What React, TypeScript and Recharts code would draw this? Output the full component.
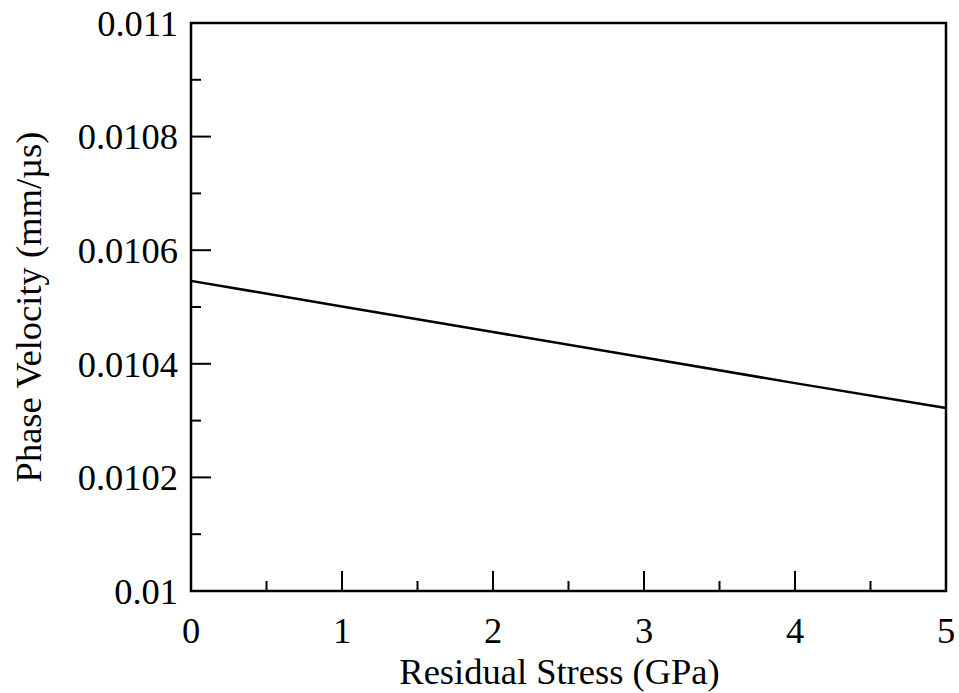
import React from 'react';
import { LineChart, Line, XAxis, YAxis, ReferenceArea } from 'recharts';

// residual stress (GPa) vs. phase velocity (mm/µs)
const stress = [0, 1, 2, 3, 4, 5];
const velocity = [0.010546, 0.010501, 0.010456, 0.010411, 0.010366, 0.010322];

const xTicks = [0, 0.5, 1, 1.5, 2, 2.5, 3, 3.5, 4, 4.5, 5];
const xTickLabels = ['0', '', '1', '', '2', '', '3', '', '4', '', '5'];
const yTicks = [0.01, 0.0101, 0.0102, 0.0103, 0.0104, 0.0105, 0.0106, 0.0107, 0.0108, 0.0109, 0.011];
const yTickLabels = ['0.01', '', '0.0102', '', '0.0104', '', '0.0106', '', '0.0108', '', '0.011'];

const data = stress.map((s, i) => ({ stress: s, velocity: velocity[i] }));

const FONT = '"Liberation Serif", "Times New Roman", serif';
const FONT_SIZE = 36.5;
const MAJOR = 20;
const MINOR = 10;
const Y_GAP = 13;
const Y_AXIS_W = 60;
const X_AXIS_H = 60;

const YTick = (props: any) => {
  const { x, y, index } = props;
  const label = yTickLabels[index];
  const axisX = x + Y_GAP;
  return (
    <g>
      <line x1={axisX} x2={axisX + (label ? MAJOR : MINOR)} y1={y} y2={y} stroke="#000" strokeWidth={2} />
      {label && (
        <text x={x} y={y} dy="0.35em" textAnchor="end" fontFamily={FONT} fontSize={FONT_SIZE} fill="#000">
          {label}
        </text>
      )}
    </g>
  );
};

const XTick = (props: any) => {
  const { x, y, index } = props;
  const label = xTickLabels[index];
  return (
    <g>
      <line x1={x} x2={x} y1={y} y2={y - (label ? MAJOR : MINOR)} stroke="#000" strokeWidth={2} />
      {label && (
        <text x={x} y={y + 39} dy="0.35em" textAnchor="middle" fontFamily={FONT} fontSize={FONT_SIZE} fill="#000">
          {label}
        </text>
      )}
    </g>
  );
};

const XLabel = (props: any) => {
  const { viewBox } = props;
  const cx = viewBox.x + viewBox.width / 2 - 9;
  return (
    <text x={cx} y={viewBox.y + 80} dy="0.35em" textAnchor="middle" fontFamily={FONT} fontSize={FONT_SIZE} fill="#000">
      Residual Stress (GPa)
    </text>
  );
};

const YLabel = (props: any) => {
  const { viewBox } = props;
  const axisX = viewBox.x + viewBox.width;
  const cx = axisX - 163;
  const cy = viewBox.y + viewBox.height / 2;
  return (
    <text
      x={cx}
      y={cy}
      dy="0.35em"
      textAnchor="middle"
      transform={`rotate(-90, ${cx}, ${cy})`}
      fontFamily={FONT}
      fontSize={FONT_SIZE}
      fill="#000"
    >
      Phase Velocity (mm/µs)
    </text>
  );
};

export default function App() {
  return (
    <div style={{ position: 'absolute', left: 0, top: 0, background: '#fff' }}>
      <LineChart
        width={959}
        height={693}
        data={data}
        margin={{ top: 23, right: 13, bottom: 102 - X_AXIS_H, left: 191 - Y_AXIS_W }}
      >
        <XAxis
          dataKey="stress"
          type="number"
          domain={[0, 5]}
          ticks={xTicks}
          interval={0}
          height={X_AXIS_H}
          tickSize={0}
          tickMargin={0}
          axisLine={false}
          tickLine={false}
          tick={<XTick />}
          label={<XLabel />}
        />
        <YAxis
          type="number"
          domain={[0.01, 0.011]}
          ticks={yTicks}
          interval={0}
          width={Y_AXIS_W}
          tickSize={0}
          tickMargin={Y_GAP}
          axisLine={false}
          tickLine={false}
          tick={<YTick />}
          label={<YLabel />}
          allowDataOverflow
        />
        <ReferenceArea x1={0} x2={5} y1={0.01} y2={0.011} fill="none" stroke="#000" strokeWidth={2.5} />
        <Line
          type="linear"
          dataKey="velocity"
          stroke="#000"
          strokeWidth={2.5}
          dot={false}
          isAnimationActive={false}
        />
      </LineChart>
    </div>
  );
}
